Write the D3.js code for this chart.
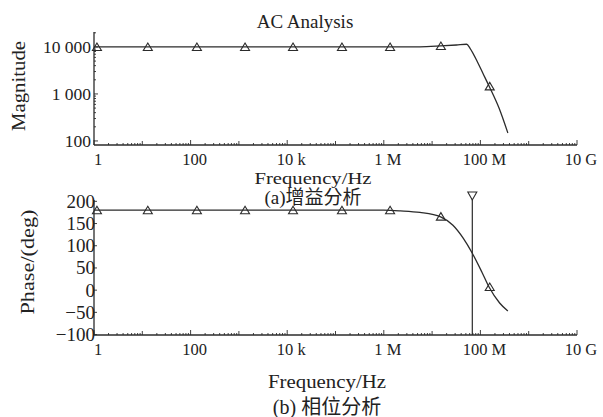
<!DOCTYPE html>
<html>
<head>
<meta charset="utf-8">
<script src="https://cdn.jsdelivr.net/npm/d3@7"></script>
<style>
  body { margin: 0; background: #fff; }
  text { font-family: "Liberation Serif", "Times New Roman", Tinos, "DejaVu Serif", "Noto Sans CJK SC", serif; fill: #222; }
</style>
</head>
<body>
<div id="chart"></div>
<script>
// magnitude trace (Hz, V/V)
const magFreq = [1, 10, 100, 1e3, 1e4, 1e5, 1e6, 5.6e6, 1.5e7, 3.2e7, 5.2e7, 6.1e7, 8.9e7, 1.12e8, 1.51e8, 2.43e8, 3.7e8]
const magVal  = [10000, 10000, 10000, 10000, 10000, 10000, 10000, 10050, 10500, 11000, 11400, 9360, 4560, 2790, 1476, 502, 148]

// phase trace (Hz, deg)
const phaseFreq = [1, 10, 100, 1e3, 1e4, 1e5, 1e6, 2.2e6, 5.6e6, 1.5e7, 2.7e7, 4.4e7, 6.8e7, 1.07e8, 1.51e8, 2.5e8, 3.7e8]
const phaseVal  = [180, 180, 180, 180, 180, 180, 180, 178.5, 175, 165, 146, 117, 83, 41, 7, -29, -47]

// triangle markers
const markFreq = [1.15, 13, 135, 1340, 13200, 1.36e5, 1.35e6, 1.52e7, 1.56e8]
const magMark = [10000, 10000, 10000, 10000, 10000, 10000, 10000, 10500, 1450]
const phaseMark = [180, 180, 180, 180, 180, 180, 180, 165.5, 7]

// cursor
const cursorFreq = 6.8e7

const xTicks = [1, 100, 1e4, 1e6, 1e8, 1e10]
const xTickLabels = ["1", "100", "10 k", "1 M", "100 M", "10 G"]
const magTicks = [100, 1000, 10000]
const magTickLabels = ["100", "1 000", "10 000"]
const phaseTicks = [-100, -50, 0, 50, 100, 150, 200]

const ink = "#2b2b2b"

const svg = d3.select("#chart").append("svg")
    .attr("width", 603)
    .attr("height", 417)

const xScale = d3.scaleLog()
    .domain([1, 1e10])
    .range([94, 577])

const magScale = d3.scaleLog()
    .domain([82, 20800])
    .range([145, 32])

const phaseScale = d3.scaleLinear()
    .domain([-101, 203])
    .range([335, 200])

const tri = "M0,-4L4.5,3.5L-4.5,3.5Z"
const triDown = "M0,4L-4.5,-4L4.5,-4Z"

// minor tick positions for log axes
function logMinors(lo, hi) {
  const out = []
  for (let e = lo; e < hi; e++) {
    for (let m = 1; m < 10; m++) out.push(m * Math.pow(10, e))
  }
  out.push(Math.pow(10, hi))
  return out
}

function drawFrame(g, yTop, yBottom) {
  // axes lines
  g.append("line")
    .attr("x1", 94).attr("x2", 94)
    .attr("y1", yTop).attr("y2", yBottom)
    .attr("stroke", ink).attr("stroke-width", 1.3)
  g.append("line")
    .attr("x1", 94).attr("x2", 577)
    .attr("y1", yBottom).attr("y2", yBottom)
    .attr("stroke", ink).attr("stroke-width", 1.3)

  // x ticks, pointing up
  g.selectAll(".xt").data(logMinors(0, 10)).join("line")
    .attr("x1", d => xScale(d)).attr("x2", d => xScale(d))
    .attr("y1", yBottom)
    .attr("y2", d => {
      const e = Math.log10(d)
      if (Math.abs(e - Math.round(e)) < 1e-9) return yBottom - (Math.round(e) % 2 === 0 ? 5 : 4)
      return yBottom - 2
    })
    .attr("stroke", ink).attr("stroke-width", 0.9)

  g.selectAll(".xl").data(xTicks).join("text")
    .attr("x", d => xScale(d) + 4)
    .attr("y", yBottom + 20)
    .attr("text-anchor", "middle")
    .style("font-size", "16.5px")
    .text((d, i) => xTickLabels[i])
}

// ---- magnitude panel
const magPanel = svg.append("g")
drawFrame(magPanel, 32, 145)

magPanel.selectAll(".yt").data(logMinors(2, 4).concat([20000])).join("line")
    .attr("x1", 94).attr("x2", d => {
      const e = Math.log10(d)
      return Math.abs(e - Math.round(e)) < 1e-9 ? 98 : 96
    })
    .attr("y1", d => magScale(d)).attr("y2", d => magScale(d))
    .attr("stroke", ink).attr("stroke-width", 0.9)

magPanel.selectAll(".yl").data(magTicks).join("text")
    .attr("x", 91)
    .attr("y", d => magScale(d) + 6)
    .attr("text-anchor", "end")
    .style("font-size", "17.5px")
    .text((d, i) => magTickLabels[i])

const magLine = d3.line()
    .x(d => xScale(d[0]))
    .y(d => magScale(d[1]))
    .curve(d3.curveMonotoneX)
magPanel.append("path")
    .attr("d", magLine(magFreq.map((f, i) => [f, magVal[i]])))
    .attr("fill", "none")
    .attr("stroke", ink)
    .attr("stroke-width", 1.3)

magPanel.selectAll(".mk").data(markFreq).join("path")
    .attr("d", tri)
    .attr("transform", (d, i) => `translate(${xScale(d)},${magScale(magMark[i])})`)
    .attr("fill", "none")
    .attr("stroke", ink)
    .attr("stroke-width", 1.1)

svg.append("text")
    .attr("x", 305).attr("y", 28)
    .attr("text-anchor", "middle")
    .style("font-size", "19px")
    .text("AC Analysis")

svg.append("text")
    .attr("transform", "translate(25,86) rotate(-90)")
    .attr("text-anchor", "middle")
    .style("font-size", "19px")
    .attr("textLength", 90)
    .attr("lengthAdjust", "spacingAndGlyphs")
    .text("Magnitude")

svg.append("text")
    .attr("x", 313).attr("y", 184)
    .attr("text-anchor", "middle")
    .style("font-size", "17px")
    .attr("textLength", 117)
    .attr("lengthAdjust", "spacingAndGlyphs")
    .text("Frequency/Hz")

svg.append("text")
    .attr("x", 313).attr("y", 204)
    .attr("text-anchor", "middle")
    .style("font-size", "19px")
    .text("(a)增益分析")

// ---- phase panel
const phasePanel = svg.append("g")
drawFrame(phasePanel, 200, 335)

phasePanel.selectAll(".yt").data(phaseTicks).join("line")
    .attr("x1", 94).attr("x2", 97)
    .attr("y1", d => phaseScale(d)).attr("y2", d => phaseScale(d))
    .attr("stroke", ink).attr("stroke-width", 0.9)

phasePanel.selectAll(".yl").data(phaseTicks).join("text")
    .attr("x", 95)
    .attr("y", d => phaseScale(d) + 6.5)
    .attr("text-anchor", "end")
    .style("font-size", "19px")
    .text(d => d < 0 ? "\u2212" + Math.abs(d) : d)

const phaseLine = d3.line()
    .x(d => xScale(d[0]))
    .y(d => phaseScale(d[1]))
    .curve(d3.curveMonotoneX)
phasePanel.append("path")
    .attr("d", phaseLine(phaseFreq.map((f, i) => [f, phaseVal[i]])))
    .attr("fill", "none")
    .attr("stroke", ink)
    .attr("stroke-width", 1.3)

phasePanel.selectAll(".mk").data(markFreq).join("path")
    .attr("d", tri)
    .attr("transform", (d, i) => `translate(${xScale(d)},${phaseScale(phaseMark[i])})`)
    .attr("fill", "none")
    .attr("stroke", ink)
    .attr("stroke-width", 1.1)

// cursor line with marker
phasePanel.append("line")
    .attr("x1", xScale(cursorFreq)).attr("x2", xScale(cursorFreq))
    .attr("y1", 196).attr("y2", 335)
    .attr("stroke", ink).attr("stroke-width", 1.2)
phasePanel.append("path")
    .attr("d", triDown)
    .attr("transform", `translate(${xScale(cursorFreq)},196)`)
    .attr("fill", "#fff")
    .attr("stroke", ink)
    .attr("stroke-width", 1.1)

svg.append("text")
    .attr("transform", "translate(34,262) rotate(-90)")
    .attr("text-anchor", "middle")
    .style("font-size", "19px")
    .attr("textLength", 105)
    .attr("lengthAdjust", "spacingAndGlyphs")
    .text("Phase/(deg)")

svg.append("text")
    .attr("x", 327).attr("y", 388)
    .attr("text-anchor", "middle")
    .style("font-size", "18px")
    .attr("textLength", 118)
    .attr("lengthAdjust", "spacingAndGlyphs")
    .text("Frequency/Hz")

svg.append("text")
    .attr("x", 327).attr("y", 414)
    .attr("text-anchor", "middle")
    .style("font-size", "20px")
    .text("(b) 相位分析")
</script>
</body>
</html>
